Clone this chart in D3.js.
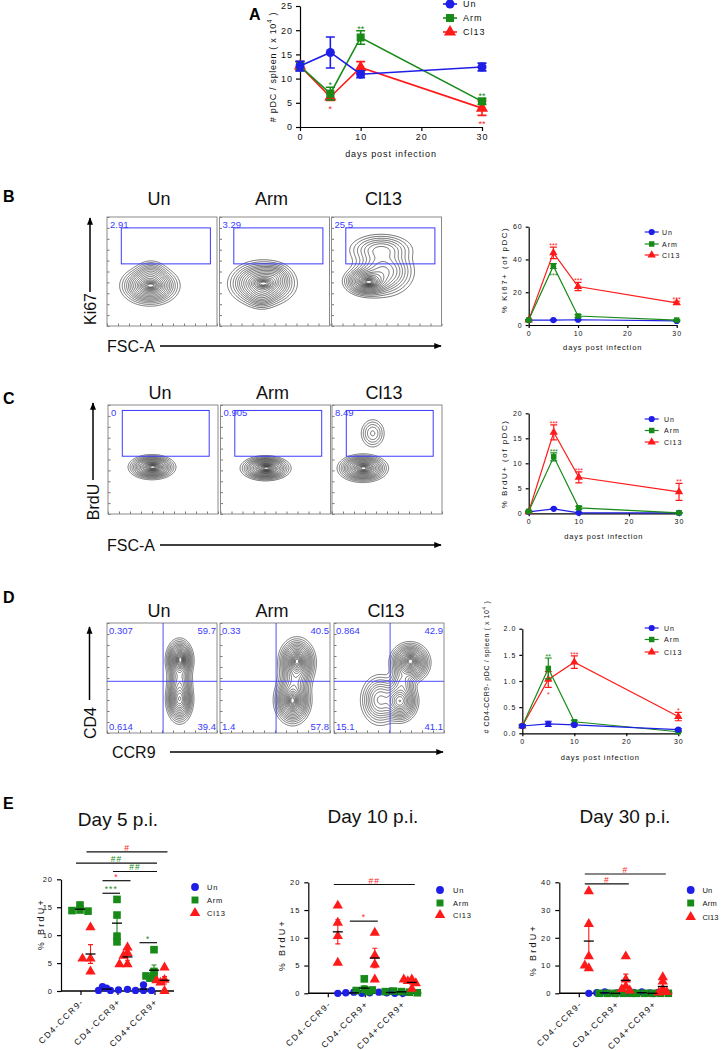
<!DOCTYPE html>
<html>
<head>
<meta charset="utf-8">
<script src="https://cdn.jsdelivr.net/npm/d3@7"></script>
<style>
  body { margin: 0; background: #fff; }
  text { font-family: "Liberation Sans", Arial, sans-serif; }
</style>
</head>
<body>
<svg id="fig" width="721" height="1050"></svg>
<script>
// ---------- shared ----------
const days = [0, 5, 10, 30];
const groups = ["Un", "Arm", "Cl13"];
const groupColors = ["#1e1ee6", "#178a17", "#ff1a1a"];
const symbols = [d3.symbolCircle, d3.symbolSquare, d3.symbolTriangle];
const cats = ["CD4-CCR9-", "CD4-CCR9+", "CD4+CCR9+"];
const gateBlue = "#3a3aff";

// ---------- A: pDC per spleen ----------
const aUn = [12.6, 15.4, 10.9, 12.4], aUnErr = [1.0, 3.2, 0.7, 0.8];
const aArm = [12.6, 6.9, 18.5, 5.3], aArmErr = [0.9, 1.3, 1.4, 0.6];
const aCl13 = [12.6, 6.2, 12.3, 3.9], aCl13Err = [0.9, 0.7, 1.2, 1.5];
const aStars = [["Arm", 5, "*", 1], ["Cl13", 5, "*", -1], ["Arm", 10, "**", 1], ["Arm", 30, "**", 1], ["Cl13", 30, "**", -1]];

// ---------- B: Ki67 ----------
const bUn = [3.0, 3.0, 3.2, 2.5], bUnErr = [0.3, 0.3, 0.3, 0.3];
const bArm = [3.0, 36.0, 5.5, 3.0], bArmErr = [0.3, 1.5, 0.8, 0.3];
const bCl13 = [3.0, 44.0, 23.5, 13.5], bCl13Err = [0.3, 3.5, 2.5, 1.0];
const bStars = [["Cl13", 5, "***", 1], ["Arm", 5, "***", -1], ["Cl13", 10, "***", 1], ["Cl13", 30, "***", 1]];
const bGateVals = ["2.91", "3.29", "25.5"];
const bGate = [13, 94, 57, 90];
const bPops = [
  [[39, 37, 9.5, 6.5, 1], [40, 37, 5, 2.2, 0.5], [40, 48, 6, 5, 0.2]],
  [[39, 39, 11, 7.5, 1], [40, 39, 5.5, 2.2, 0.5], [38, 28, 6, 5, 0.2], [50, 45, 6, 5, 0.2]],
  [[33, 41, 8, 5, 1], [34, 40, 5, 2, 0.5], [47, 50, 11, 9, 0.45], [45, 70, 12, 6, 0.25]]
];

// ---------- C: BrdU ----------
const cUn = [0.3, 0.9, 0.1, 0.1], cUnErr = [0.1, 0.1, 0.05, 0.05];
const cArm = [0.4, 11.3, 1.1, 0.1], cArmErr = [0.1, 0.8, 0.3, 0.05];
const cCl13 = [0.3, 16.2, 7.2, 4.3], cCl13Err = [0.1, 1.5, 1.1, 1.7];
const cStars = [["Cl13", 5, "***", 1], ["Arm", 5, "***", 1], ["Cl13", 10, "***", 1], ["Cl13", 30, "**", 1]];
const cGateVals = ["0", "0.905", "8.49"];
const cGate = [13, 92, 53, 95];
const cPops = [
  [[40, 43, 7.5, 4, 1], [41, 43, 4, 1.8, 0.5]],
  [[41, 42, 8, 4, 1], [42, 42, 4, 1.8, 0.5]],
  [[28, 42, 8, 4.5, 1], [29, 42, 4, 2, 0.4], [37, 74, 5, 6, 0.12]]
];

// ---------- D: CD4/CCR9 ----------
const dUn = [0.14, 0.18, 0.16, 0.07], dUnErr = [0.02, 0.05, 0.02, 0.02];
const dArm = [0.14, 1.24, 0.22, 0.03], dArmErr = [0.02, 0.2, 0.03, 0.01];
const dCl13 = [0.14, 1.03, 1.36, 0.32], dCl13Err = [0.02, 0.15, 0.12, 0.08];
const dStars = [["Arm", 5, "**", 1], ["Cl13", 5, "*", -1], ["Cl13", 10, "***", 1], ["Cl13", 30, "*", 1]];
const dQuadVals = [["0.307", "59.7", "0.614", "39.4"], ["0.33", "40.5", "1.4", "57.8"], ["0.864", "42.9", "15.1", "41.1"]];
const dQuad = [51, 47];
const dPops = [
  [[66, 66, 4.5, 7, 1], [66, 31, 4.5, 8, 0.9], [66, 48, 4.5, 6, 0.3], [67, 67, 2.2, 4, 0.4]],
  [[70, 64, 6, 8, 1], [66, 30, 6, 8, 1], [68, 47, 6, 6, 0.3], [70, 66, 2.5, 4, 0.3], [66, 29, 2.5, 4, 0.3]],
  [[69, 64, 6.5, 6.5, 1], [60, 29, 6, 7, 0.8], [42, 30, 7, 9, 0.35], [62, 46, 5, 6, 0.25], [70, 66, 3, 3, 0.3]]
];

// ---------- E: % BrdU+ by subset ----------
const e5Un = [[], [0.5, 0.8, 0.1, 0.1, 0.2], [0.1, 1.1, 0.1, 0.1, 0.3]];
const e5Arm = [[15.4, 14.5, 14.4, 14.3], [16.4, 13.6, 9.8, 8.8], [7.4, 3.5, 2.7, 2.3, 2.7]];
const e5Cl13 = [[11.4, 5.8, 5.8, 3.5], [7.8, 6.8, 6.3, 4.8, 4.8], [4.2, 2.0, 1.9, 1.5, 0.0]];
const e5Sig = [
  [1, "Un", 1, "Arm", 17.5, "***", "Arm"],
  [1, "Un", 1, "Cl13", 19.75, "*", "Cl13"],
  [2, "Un", 2, "Arm", 8.65, "*", "Arm"],
  [1, "Arm", 2, "Arm", 21.4, "##", "Arm"],
  [0, "Arm", 2, "Arm", 22.9, "##", "Arm"],
  [0, "Cl13", 2, "Cl13", 24.9, "#", "Cl13"]
];
const e10Un = [[], [0.2, 0.1, 0.0, 0.0, 0.1], [0.4, 0.1, 0.0, 0.2, 0.0]];
const e10Arm = [[], [2.6, 0.7, 0.5, 0.3, 0.6], [0.3, 0.4, 0.2, 0.3, 0.1]];
const e10Cl13 = [[15.8, 12.7, 10.3, 5.5], [10.9, 6.8, 5.2, 2.5], [2.5, 2.5, 2.2, 1.8, 0.8]];
const e10Sig = [
  [0, "Cl13", 2, "Cl13", 19.6, "##", "Cl13"],
  [1, "Un", 1, "Cl13", 13.0, "*", "Cl13"]
];
const e30Un = [[], [0.5, 0.2, 0.0, 0.1, 0.0], [0.5, 0.3, 0.1, 0.0, 0.2]];
const e30Arm = [[], [0, 0, 0, 0, 0], [0, 0, 0, 0, 0]];
const e30Cl13 = [[36.8, 25.0, 13.3, 9.0, 10.0], [13.3, 5.0, 2.5, 1.5, 1.0], [5.8, 4.2, 1.5, 0.3, 0.5]];
const e30Sig = [
  [0, "Cl13", 1, "Cl13", 39.4, "#", "Cl13"],
  [0, "Cl13", 2, "Cl13", 43.0, "#", "Cl13"]
];

const flowLevels = [0.01, 0.02, 0.035, 0.055, 0.08, 0.11, 0.15, 0.2, 0.26, 0.33, 0.4, 0.48, 0.56, 0.64, 0.72, 0.8, 0.87, 0.93];

const svg = d3.select("#fig");
const col = name => groupColors[groups.indexOf(name)];
const sym = name => symbols[groups.indexOf(name)];

function styleAxis(a, fs, ls) {
  a.selectAll("path, line").attr("stroke", "#000").attr("stroke-width", 1.2);
  a.selectAll("text").attr("fill", "#111").style("font-size", fs + "px").style("letter-spacing", ls + "px");
}

function rotText(x, y, fs, ls, parts) {
  const t = svg.append("text").attr("transform", `translate(${x},${y}) rotate(-90)`)
    .attr("text-anchor", "middle").style("font-size", fs + "px").style("letter-spacing", ls + "px").attr("fill", "#111");
  t.append("tspan").text(parts[0]);
  if (parts.length > 1) {
    t.append("tspan").attr("dy", -fs * 0.4).style("font-size", (fs * 0.7) + "px").text(parts[1]);
    t.append("tspan").attr("dy", fs * 0.4).text(parts[2]);
  }
}

// ---------- line charts ----------
function lineChart(o) {
  const g = svg.append("g");
  const x = d3.scaleLinear().domain([0, 30]).range([o.x0, o.x1]);
  const y = d3.scaleLinear().domain([0, o.yMax]).range([o.y0, o.y1]);
  g.append("g").attr("transform", `translate(${o.x0},0)`)
    .call(d3.axisLeft(y).tickValues(o.yTicks).tickFormat(o.fmt).tickSize(o.tk).tickSizeOuter(0).tickPadding(3))
    .call(a => styleAxis(a, o.fs, o.ls));
  g.append("g").attr("transform", `translate(0,${o.y0})`)
    .call(d3.axisBottom(x).tickValues([0, 10, 20, 30]).tickSize(o.tk).tickSizeOuter(0).tickPadding(3))
    .call(a => styleAxis(a, o.fs, o.ls));

  o.series.forEach(([name, vals, errs]) => {
    const c = col(name);
    g.append("path").datum(vals).attr("fill", "none").attr("stroke", c).attr("stroke-width", o.lw)
      .attr("d", d3.line().x((d, i) => x(days[i])).y(d => y(d)));
    vals.forEach((v, i) => {
      const cx = x(days[i]), t = y(v + errs[i]), b = y(Math.max(0, v - errs[i]));
      g.append("path").attr("fill", "none").attr("stroke", c).attr("stroke-width", o.lw)
        .attr("d", `M${cx},${t}V${b}M${cx - o.cap},${t}H${cx + o.cap}M${cx - o.cap},${b}H${cx + o.cap}`);
    });
    g.selectAll(null).data(vals).join("path")
      .attr("transform", (d, i) => `translate(${x(days[i])},${y(d)})`)
      .attr("d", d3.symbol().type(sym(name)).size(o.ms)).attr("fill", c);
  });

  o.stars.forEach(([name, day, txt, dir]) => {
    const s = o.series.find(d => d[0] === name), i = days.indexOf(day);
    const v = s[1][i], e = s[2][i];
    const yy = dir > 0 ? y(v + e) + 1 : y(Math.max(0, v - e)) + o.sfs + 3;
    g.append("text").attr("x", x(day)).attr("y", yy).attr("text-anchor", "middle")
      .attr("fill", col(name)).style("font-size", o.sfs + "px").text(txt);
  });

  groups.forEach((name, i) => {
    const ly = o.legY[i];
    g.append("line").attr("x1", o.legX - 7).attr("x2", o.legX + 7).attr("y1", ly).attr("y2", ly)
      .attr("stroke", col(name)).attr("stroke-width", o.lw);
    g.append("path").attr("transform", `translate(${o.legX},${ly})`)
      .attr("d", d3.symbol().type(sym(name)).size(o.ms)).attr("fill", col(name));
    g.append("text").attr("x", o.legTX).attr("y", ly + o.fs * 0.36).attr("fill", "#111")
      .style("font-size", o.fs + "px").style("letter-spacing", o.ls + "px").text(name);
  });

  g.append("text").attr("x", (o.x0 + o.x1) / 2).attr("y", o.xLabY).attr("text-anchor", "middle")
    .attr("fill", "#111").style("font-size", o.xLab[0] + "px").style("letter-spacing", o.xLab[1] + "px")
    .text("days post infection");
  rotText(o.yLabX, o.yLabY, o.yLabF[0], o.yLabF[1], o.yLab);
}

lineChart({
  x0: 300, x1: 482, y0: 127, y1: 6, yMax: 25, yTicks: [0, 5, 10, 15, 20, 25], fmt: d3.format("d"),
  tk: 4, fs: 9, ls: 1, lw: 1.6, cap: 4.5, ms: 64, sfs: 9,
  series: [["Cl13", aCl13, aCl13Err], ["Arm", aArm, aArmErr], ["Un", aUn, aUnErr]],
  stars: aStars, legX: 450, legTX: 463, legY: [4, 18, 32],
  xLabY: 157, xLab: [9, 0.9], yLabX: 276, yLabY: 67, yLabF: [9, 0.7], yLab: ["# pDC / spleen ( x 10", "4", " )"]
});
lineChart({
  x0: 528.7, x1: 676.7, y0: 325, y1: 226.7, yMax: 60, yTicks: [0, 20, 40, 60], fmt: d3.format("d"),
  tk: 3, fs: 7, ls: 1, lw: 1.2, cap: 3.5, ms: 30, sfs: 7,
  series: [["Un", bUn, bUnErr], ["Cl13", bCl13, bCl13Err], ["Arm", bArm, bArmErr]],
  stars: bStars, legX: 651.7, legTX: 662, legY: [232, 244, 255],
  xLabY: 350, xLab: [7.5, 0.9], yLabX: 507, yLabY: 270, yLabF: [8, 1.5], yLab: ["% Ki67+ (of pDC)"]
});
lineChart({
  x0: 528.7, x1: 679, y0: 513.3, y1: 413.3, yMax: 20, yTicks: [0, 5, 10, 15, 20], fmt: d3.format("d"),
  tk: 3, fs: 7, ls: 1, lw: 1.2, cap: 3.5, ms: 30, sfs: 7,
  series: [["Un", cUn, cUnErr], ["Cl13", cCl13, cCl13Err], ["Arm", cArm, cArmErr]],
  stars: cStars, legX: 651.7, legTX: 664, legY: [419, 430.5, 442],
  xLabY: 539, xLab: [7.5, 0.9], yLabX: 507, yLabY: 464, yLabF: [8, 1.5], yLab: ["% BrdU+ (of pDC)"]
});
lineChart({
  x0: 522.3, x1: 678.3, y0: 733.3, y1: 628.7, yMax: 2, yTicks: [0, 0.5, 1, 1.5, 2], fmt: d3.format(".1f"),
  tk: 3, fs: 7, ls: 1, lw: 1.2, cap: 3.5, ms: 30, sfs: 7,
  series: [["Cl13", dCl13, dCl13Err], ["Arm", dArm, dArmErr], ["Un", dUn, dUnErr]],
  stars: dStars, legX: 651.7, legTX: 664, legY: [628, 639.5, 652],
  xLabY: 760, xLab: [7.5, 0.9], yLabX: 489, yLabY: 667, yLabF: [7, 0.6], yLab: ["# CD4-CCR9- pDC / spleen ( x 10", "4", " )"]
});

// ---------- flow contour plots ----------
function flowPlot(o) {
  const g = svg.append("g");
  const n = Math.round(o.w), m = Math.round(o.h);
  const vals = new Float64Array(n * m);
  for (let j = 0; j < m; j++) {
    const uy = 100 - (j + 0.5) / m * 100;
    for (let i = 0; i < n; i++) {
      const ux = (i + 0.5) / n * 100;
      let s = 0;
      o.pops.forEach(([cx, cy, sx, sy, w]) => {
        s += w * Math.exp(-0.5 * ((ux - cx) / sx) ** 2 - 0.5 * ((uy - cy) / sy) ** 2);
      });
      vals[j * n + i] = s;
    }
  }
  const mx = d3.max(vals);
  const cont = d3.contours().size([n, m]).thresholds(flowLevels.map(t => t * mx))(vals);
  const path = d3.geoPath(d3.geoIdentity().scale(o.w / n).translate([o.left, o.top]));
  g.selectAll(null).data(cont).join("path").attr("d", path)
    .attr("fill", "none").attr("stroke", "#1a1a1a").attr("stroke-width", 0.6);

  const sx = d3.scaleLinear().domain([0, 100]).range([o.left, o.left + o.w]);
  const sy = d3.scaleLinear().domain([0, 100]).range([o.top + o.h, o.top]);
  g.append("g").attr("transform", `translate(${o.left},0)`)
    .call(d3.axisRight(sy).ticks(8).tickSize(2.5).tickFormat("").tickSizeOuter(0))
    .call(a => { a.select(".domain").remove(); a.selectAll("line").attr("stroke", "#777"); });
  g.append("g").attr("transform", `translate(0,${o.top + o.h})`)
    .call(d3.axisTop(sx).ticks(8).tickSize(2.5).tickFormat("").tickSizeOuter(0))
    .call(a => { a.select(".domain").remove(); a.selectAll("line").attr("stroke", "#777"); });
  g.append("rect").attr("x", o.left).attr("y", o.top).attr("width", o.w).attr("height", o.h)
    .attr("fill", "none").attr("stroke", "#8a8a8a").attr("stroke-width", 1);

  if (o.gate) {
    const [x1, x2, y1, y2] = o.gate;
    g.append("rect").attr("x", sx(x1)).attr("y", sy(y2)).attr("width", sx(x2) - sx(x1)).attr("height", sy(y1) - sy(y2))
      .attr("fill", "none").attr("stroke", gateBlue).attr("stroke-width", 1);
    g.append("text").attr("x", o.left + 3).attr("y", o.top + 11).attr("fill", gateBlue)
      .style("font-size", "9.5px").text(o.gateVal);
  }
  if (o.quad) {
    g.append("line").attr("x1", sx(o.quad[0])).attr("x2", sx(o.quad[0])).attr("y1", o.top).attr("y2", o.top + o.h)
      .attr("stroke", gateBlue).attr("stroke-width", 0.9);
    g.append("line").attr("x1", o.left).attr("x2", o.left + o.w).attr("y1", sy(o.quad[1])).attr("y2", sy(o.quad[1]))
      .attr("stroke", gateBlue).attr("stroke-width", 0.9);
    const q = o.quadVals;
    const lab = (x, y, a, t) => g.append("text").attr("x", x).attr("y", y).attr("text-anchor", a)
      .attr("fill", gateBlue).style("font-size", "9.5px").text(t);
    lab(o.left + 2, o.top + 11, "start", q[0]);
    lab(o.left + o.w - 1, o.top + 11, "end", q[1]);
    lab(o.left + 2, o.top + o.h - 3, "start", q[2]);
    lab(o.left + o.w - 1, o.top + o.h - 3, "end", q[3]);
  }
  svg.append("text").attr("x", o.left + o.w / 2 - 3).attr("y", o.titleY).attr("text-anchor", "middle")
    .attr("fill", "#111").style("font-size", "18px").text(o.title);
}

const bLefts = [107, 219.5, 331.5], cLefts = [108, 220.5, 332], dLefts = [107, 220, 334];
groups.forEach((name, i) => {
  flowPlot({ left: bLefts[i], top: 217, w: 110, h: 109, pops: bPops[i], gate: bGate, gateVal: bGateVals[i], title: name, titleY: 205 });
  flowPlot({ left: cLefts[i], top: 405, w: 110, h: 109, pops: cPops[i], gate: cGate, gateVal: cGateVals[i], title: name, titleY: 399 });
  flowPlot({ left: dLefts[i], top: 623, w: 110, h: 110, pops: dPops[i], quad: dQuad, quadVals: dQuadVals[i], title: name, titleY: 617 });
});

// axis arrows for flow plots
svg.append("defs").append("marker").attr("id", "arr").attr("viewBox", "0 0 10 10").attr("refX", 9).attr("refY", 5)
  .attr("markerWidth", 5).attr("markerHeight", 5).attr("orient", "auto")
  .append("path").attr("d", "M0,1L10,5L0,9Z").attr("fill", "#000");
function arrow(x1, y1, x2, y2) {
  svg.append("line").attr("x1", x1).attr("y1", y1).attr("x2", x2).attr("y2", y2)
    .attr("stroke", "#000").attr("stroke-width", 1.5).attr("marker-end", "url(#arr)");
}
function bigRot(x, y, t) {
  svg.append("text").attr("transform", `translate(${x},${y}) rotate(-90)`).attr("text-anchor", "middle")
    .attr("fill", "#111").style("font-size", "16px").text(t);
}
function bigText(x, y, t) {
  svg.append("text").attr("x", x).attr("y", y).attr("fill", "#111").style("font-size", "16px").text(t);
}
arrow(90, 292, 90, 218); bigRot(96, 309, "Ki67");
arrow(160, 346, 441, 346); bigText(107, 351.5, "FSC-A");
arrow(93, 480, 93, 403); bigRot(99, 502, "BrdU");
arrow(160, 545, 441, 545); bigText(107, 550.5, "FSC-A");
arrow(89.5, 700, 89.5, 627); bigRot(95.5, 723, "CD4");
arrow(170, 752, 443, 752); bigText(112, 757.5, "CCR9");

// panel letters
[["A", 249, 20], ["B", 3, 202], ["C", 3, 404], ["D", 3, 603], ["E", 3, 809]].forEach(([t, x, y]) => {
  svg.append("text").attr("x", x).attr("y", y).attr("fill", "#000").style("font-size", "16px")
    .style("font-weight", "bold").text(t);
});

// ---------- E dot plots ----------
function dodge(vals, y, step, minD) {
  const placed = [];
  return vals.map(v => {
    const py = y(v);
    for (let k = 0; k < 40; k++) {
      const off = k === 0 ? 0 : (k % 2 ? -1 : 1) * Math.ceil(k / 2) * step;
      if (placed.every(p => Math.hypot(p[0] - off, p[1] - py) >= minD)) { placed.push([off, py]); return [off, py]; }
    }
    return [0, py];
  });
}

function dotChart(o) {
  const g = svg.append("g");
  const x = d3.scalePoint().domain(cats).range([o.left + 19.5, o.left + 93.5]);
  const gx = d3.scalePoint().domain(groups).range([-11, 10]);
  const y = d3.scaleLinear().domain([0, o.yMax]).range([o.y0, o.y1]);
  g.append("g").attr("transform", `translate(${o.left},0)`)
    .call(d3.axisLeft(y).tickValues(o.yTicks).tickSize(4).tickSizeOuter(0).tickPadding(4))
    .call(a => styleAxis(a, 7.5, 1));
  g.append("g").attr("transform", `translate(0,${o.y0})`)
    .call(d3.axisBottom(x).tickSize(4).tickSizeOuter(0).tickFormat(""))
    .call(a => { a.select(".domain").remove(); styleAxis(a, 8, 1); });
  g.append("line").attr("x1", o.left).attr("x2", o.left + 113).attr("y1", o.y0).attr("y2", o.y0)
    .attr("stroke", "#000").attr("stroke-width", 1.4);
  cats.forEach(c => {
    g.append("text").attr("transform", `translate(${x(c) + 4},${o.y0 + 11}) rotate(-45)`)
      .attr("text-anchor", "end").attr("fill", "#111").style("font-size", "8.5px").style("letter-spacing", "1.6px").text(c);
  });

  const sets = [["Un", o.un, 42], ["Arm", o.arm, 58], ["Cl13", o.cl13, 46]];
  sets.forEach(([name, byCat, size]) => {
    byCat.forEach((vals, ci) => {
      if (!vals.length) return;
      const cx = x(cats[ci]) + gx(name);
      dodge(vals, y, 4, 4.2).forEach(([off, py]) => {
        g.append("path").attr("transform", `translate(${cx + off},${py})`)
          .attr("d", d3.symbol().type(sym(name)).size(size)).attr("fill", col(name));
      });
    });
  });
  sets.forEach(([name, byCat]) => {
    byCat.forEach((vals, ci) => {
      if (!vals.length) return;
      const cx = x(cats[ci]) + gx(name);
      const mean = d3.mean(vals), sem = (d3.deviation(vals) || 0) / Math.sqrt(vals.length);
      const t = y(mean + sem), b = y(Math.max(0, mean - sem));
      g.append("path").attr("fill", "none").attr("stroke", col(name)).attr("stroke-width", 1.1)
        .attr("d", `M${cx},${t}V${b}M${cx - 2.5},${t}H${cx + 2.5}M${cx - 2.5},${b}H${cx + 2.5}`);
      g.append("line").attr("x1", cx - 5).attr("x2", cx + 5).attr("y1", y(mean)).attr("y2", y(mean))
        .attr("stroke", "#000").attr("stroke-width", 1.3);
    });
  });

  o.sig.forEach(([c1, g1, c2, g2, v, txt, cg]) => {
    const xa = x(cats[c1]) + gx(g1) - 4, xb = x(cats[c2]) + gx(g2) + 3;
    g.append("line").attr("x1", xa).attr("x2", xb).attr("y1", y(v)).attr("y2", y(v))
      .attr("stroke", "#111").attr("stroke-width", 1.2);
    g.append("text").attr("x", (xa + xb) / 2).attr("y", y(v) - 1).attr("text-anchor", "middle")
      .attr("fill", col(cg)).style("font-size", "8.5px").style("letter-spacing", "1px").text(txt);
  });

  groups.forEach((name, i) => {
    const ly = o.legY[i];
    g.append("path").attr("transform", `translate(${o.legX},${ly})`)
      .attr("d", d3.symbol().type(sym(name)).size(48)).attr("fill", col(name));
    g.append("text").attr("x", o.legTX).attr("y", ly + 2.6).attr("fill", "#111")
      .style("font-size", "7.5px").style("letter-spacing", o.legLs + "px").text(name);
  });

  rotText(o.yLabX, o.yLabY, 9, 2.3, ["% BrdU+"]);
  svg.append("text").attr("x", o.titleX).attr("y", o.titleY).attr("text-anchor", "middle")
    .attr("fill", "#111").style("font-size", "19px").text(o.title);
}

dotChart({ left: 61, y0: 991, y1: 879.3, yMax: 20, yTicks: [0, 5, 10, 15, 20],
  un: e5Un, arm: e5Arm, cl13: e5Cl13, sig: e5Sig, legX: 195, legTX: 207, legLs: 0.8, legY: [887, 900, 913],
  yLabX: 44, yLabY: 924, title: "Day 5 p.i.", titleX: 118, titleY: 826 });
dotChart({ left: 308.3, y0: 993.3, y1: 882.3, yMax: 20, yTicks: [0, 5, 10, 15, 20],
  un: e10Un, arm: e10Arm, cl13: e10Cl13, sig: e10Sig, legX: 440, legTX: 453, legLs: 0.8, legY: [890, 903, 915],
  yLabX: 285, yLabY: 945, title: "Day 10 p.i.", titleX: 373, titleY: 823 });
dotChart({ left: 559.3, y0: 993.3, y1: 882.3, yMax: 40, yTicks: [0, 10, 20, 30, 40],
  un: e30Un, arm: e30Arm, cl13: e30Cl13, sig: e30Sig, legX: 690.7, legTX: 702.5, legLs: 0.2, legY: [890, 903, 917],
  yLabX: 536, yLabY: 950, title: "Day 30 p.i.", titleX: 625, titleY: 823 });
</script>
</body>
</html>
